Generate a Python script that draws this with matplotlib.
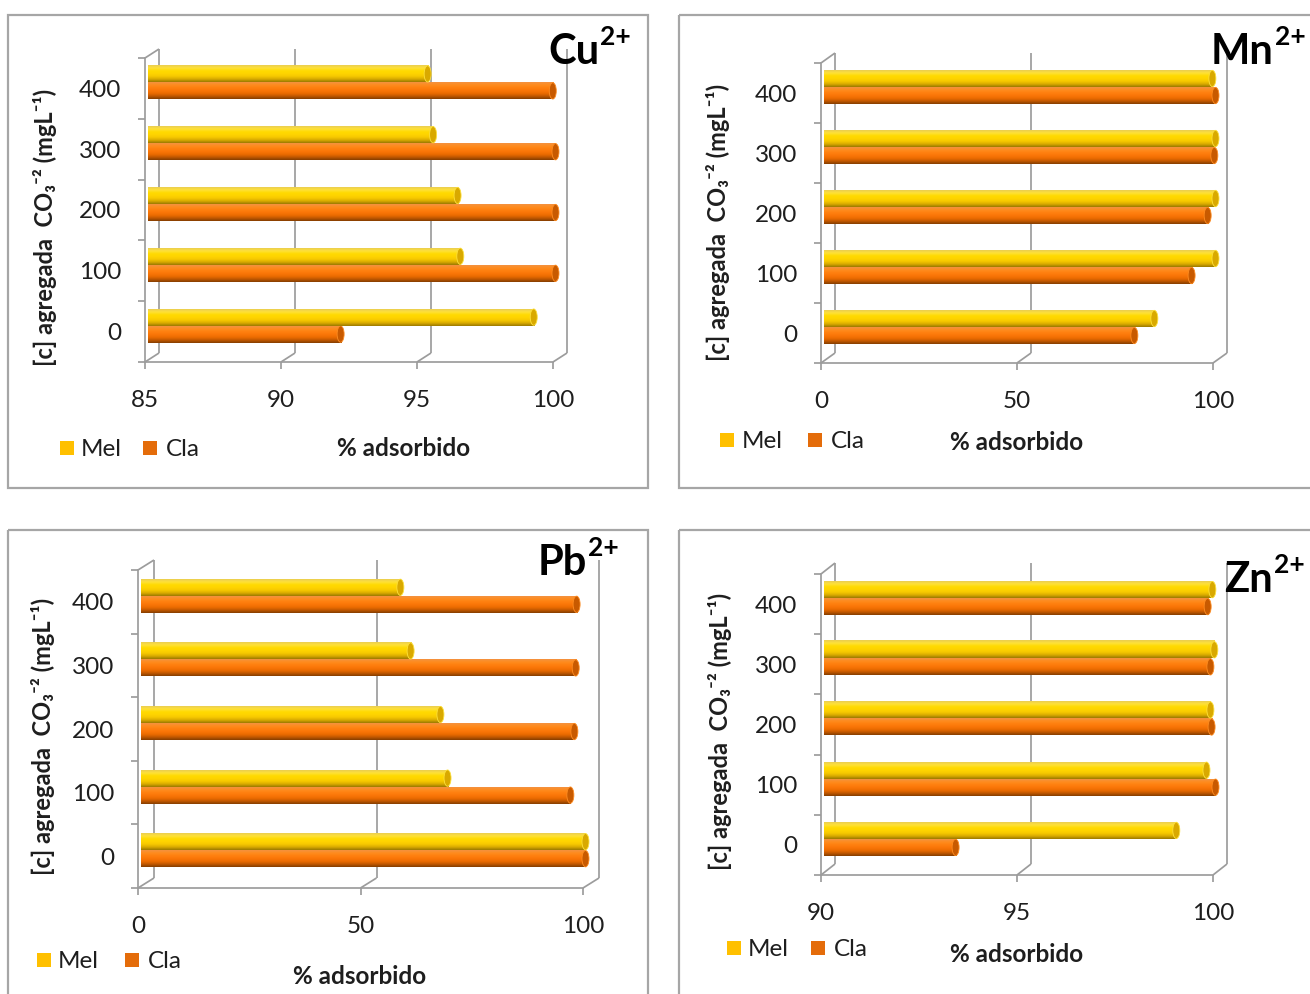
import numpy as np
import matplotlib
matplotlib.use("Agg")
import matplotlib.pyplot as plt
from matplotlib.patches import Rectangle, Ellipse
from matplotlib.colors import LinearSegmentedColormap
from matplotlib.transforms import Affine2D

plt.rcParams['font.family'] = ['Lato', 'DejaVu Sans']

# ---- data: % adsorbed vs. added carbonate concentration ----
categories = ['0', '100', '200', '300', '400']
series_names = ['Mel', 'Cla']

cu_mel = [99.2, 96.5, 96.4, 95.5, 95.3]
cu_cla = [92.1, 100.0, 100.0, 100.0, 99.9]
mn_mel = [84.4, 100.0, 100.0, 100.0, 99.2]
mn_cla = [79.3, 93.9, 98.0, 99.7, 100.0]
pb_mel = [100.0, 69.0, 67.4, 60.7, 58.4]
pb_cla = [100.0, 96.6, 97.5, 97.8, 98.0]
zn_mel = [99.0, 99.77, 99.87, 99.97, 99.92]
zn_cla = [93.37, 100.0, 99.9, 99.87, 99.8]

cu_ticks = [85, 90, 95, 100]
mn_ticks = [0, 50, 100]
pb_ticks = [0, 50, 100]
zn_ticks = [90, 95, 100]

ions = ['Cu', 'Mn', 'Pb', 'Zn']
charge = '2+'
ylabel = '[c] agregada  CO\u2083\u207b\u00b2 (mgL\u207b\u00b9)'
xlabel = '% adsorbido'

# ---- styling ----
W, H = 1310, 994
GRID = '#9C9C9C'
TXT = '#1E1E1E'
MEL_LEG = '#FFC000'
CLA_LEG = '#E46C0A'
mel_cmap = LinearSegmentedColormap.from_list(
    'mel', ['#EACD50', '#FFE23A', '#FFDA00', '#FFD400', '#F6C800', '#D8AA00', '#9A7800'])
cla_cmap = LinearSegmentedColormap.from_list(
    'cla', ['#F39240', '#FF8C1E', '#FF800F', '#FA7608', '#EC6C00', '#C25800', '#843D00'])
MEL_CAP = '#D9A900'
CLA_CAP = '#C85A00'

TICK_FS = 17.5
BAR_PX = 17      # bar thickness in pixels
BAR_DX = 2.5     # bar depth shift (px)
BAR_DY = 6       # bar depth shift (px, upward)
CAP_PX = 7       # width of the cylinder end cap

fig = plt.figure(figsize=(W / 100, H / 100), dpi=100)
fig.patch.set_facecolor('white')
px = Affine2D().scale(1 / W, -1 / H).translate(0, 1) + fig.transFigure
renderer = fig.canvas.get_renderer()

layout = [
    dict(front=(145, 553, 58, 362), back=(14, 9), frame=(8, 15, 648, 488),
         title=(548, 64), ylab=(45, 227),
         leg=(60, 441, 81, 143, 166), xlab=(337, 448)),
    dict(front=(821, 1213, 63, 363), back=(14, 10), frame=(679, 15, 1322, 488),
         title=(1211, 64), ylab=(718, 222),
         leg=(720, 433, 742, 808, 831), xlab=(950, 443)),
    dict(front=(138, 583, 570, 888), back=(16, 10), frame=(8, 530, 648, 1006),
         title=(538, 575), ylab=(43, 736),
         leg=(37, 953, 58, 125, 148), xlab=(293, 976)),
    dict(front=(821, 1213, 574, 875), back=(14, 11), frame=(679, 530, 1322, 1006),
         title=(1224, 592), ylab=(720, 731),
         leg=(727, 941, 748, 811, 834), xlab=(950, 955)),
]
panel_data = [(cu_mel, cu_cla, cu_ticks), (mn_mel, mn_cla, mn_ticks),
              (pb_mel, pb_cla, pb_ticks), (zn_mel, zn_cla, zn_ticks)]

grad = np.linspace(0, 1, 64).reshape(-1, 1)


def draw_panel(geom, mel, cla, xticks, ion):
    xl, xr, yt, yb = geom['front']
    fx0, fy0, fx1, fy1 = geom['frame']
    fig.add_artist(Rectangle((fx0, fy0), fx1 - fx0, fy1 - fy0, transform=px,
                             fill=False, edgecolor='#A6A6A6', lw=1.6, zorder=0))

    ax = fig.add_axes([xl / W, 1 - yb / H, (xr - xl) / W, (yb - yt) / H])
    ax.patch.set_alpha(0)
    x0, x1 = xticks[0], xticks[-1]
    ux = (x1 - x0) / (xr - xl)
    uy = 5.0 / (yb - yt)
    gx, gy = geom['back'][0] * ux, geom['back'][1] * uy

    line_kw = dict(color=GRID, lw=1.25, clip_on=False, zorder=1,
                   solid_capstyle='butt')
    # back wall gridlines and floor connectors
    for t in xticks:
        ax.plot([t + gx, t + gx], [-0.5 + gy, 4.5 + gy], **line_kw)
        ax.plot([t, t + gx], [-0.5, -0.5 + gy], **line_kw)
    ax.plot([x0, x0 + gx], [4.5, 4.5 + gy], **line_kw)

    # cylinder bars: Cla below, Mel above within each category
    h = BAR_PX * uy
    sx, sy = BAR_DX * ux, BAR_DY * uy
    cw = CAP_PX * ux
    for i, (vm, vc) in enumerate(zip(mel, cla)):
        base = i + sy
        for val, y0, y1, cmap, capc, z in [
                (vc, base - h, base, cla_cmap, CLA_CAP, 3),
                (vm, base, base + h, mel_cmap, MEL_CAP, 4)]:
            ax.imshow(grad, cmap=cmap, aspect='auto', origin='upper',
                      extent=(x0 + sx, val + sx, y0, y1),
                      interpolation='bicubic', zorder=z, clip_on=False)
            ax.add_patch(Ellipse((val + sx, (y0 + y1) / 2), cw, (y1 - y0) * 0.96,
                                 facecolor=capc, edgecolor=cmap(0.15), lw=0.6,
                                 zorder=z + 0.5, clip_on=False))

    ax.set_xlim(x0, x1)
    ax.set_ylim(-0.5, 4.5)
    for s in ['top', 'right']:
        ax.spines[s].set_visible(False)
    for s in ['left', 'bottom']:
        ax.spines[s].set_color(GRID)
        ax.spines[s].set_linewidth(1.25)
        ax.spines[s].set_zorder(1)

    ax.set_xticks(xticks)
    ax.set_xticklabels([str(t) for t in xticks])
    ax.tick_params(axis='x', length=5, width=1.25, color=GRID, pad=15,
                   labelsize=TICK_FS, labelcolor=TXT)
    ax.set_yticks(range(len(categories)))
    ax.set_yticklabels(categories)
    ax.set_yticks(np.arange(-0.5, len(categories), 1.0), minor=True)
    ax.tick_params(axis='y', which='major', length=0, pad=17,
                   labelsize=TICK_FS, labelcolor=TXT)
    ax.tick_params(axis='y', which='minor', length=5, width=1.25, color=GRID)

    # ion title with superscript charge
    tx, ty = geom['title']
    main = fig.text(tx, ty, ion, transform=px, fontsize=30, fontweight='bold',
                    ha='left', va='baseline', color='black', zorder=6)
    bb = main.get_window_extent(renderer)
    sup_x = bb.x1 / fig.dpi * 100 + 1
    fig.text(sup_x, ty - 19, charge, transform=px, fontsize=19, fontweight='bold',
             ha='left', va='baseline', color='black', zorder=6)

    lx, ly = geom['ylab']
    fig.text(lx, ly, ylabel, transform=px, fontsize=17, fontweight='bold',
             rotation=90, ha='center', va='center', color=TXT)
    ax_x, ax_y = geom['xlab']
    fig.text(ax_x, ax_y, xlabel, transform=px, fontsize=17.5, fontweight='bold',
             ha='left', va='center', color=TXT)
    sq_x, sq_y, t1, sq2, t2 = geom['leg']
    for qx, tx_, name, col in [(sq_x, t1, series_names[0], MEL_LEG),
                               (sq2, t2, series_names[1], CLA_LEG)]:
        fig.add_artist(Rectangle((qx, sq_y), 14, 14, transform=px,
                                 facecolor=col, edgecolor='none'))
        fig.text(tx_, sq_y + 8, name, transform=px, fontsize=TICK_FS,
                 ha='left', va='center', color=TXT)


for geom, (mel, cla, ticks), ion in zip(layout, panel_data, ions):
    draw_panel(geom, mel, cla, ticks, ion)

fig.savefig('out.png', dpi=100, facecolor='white')
